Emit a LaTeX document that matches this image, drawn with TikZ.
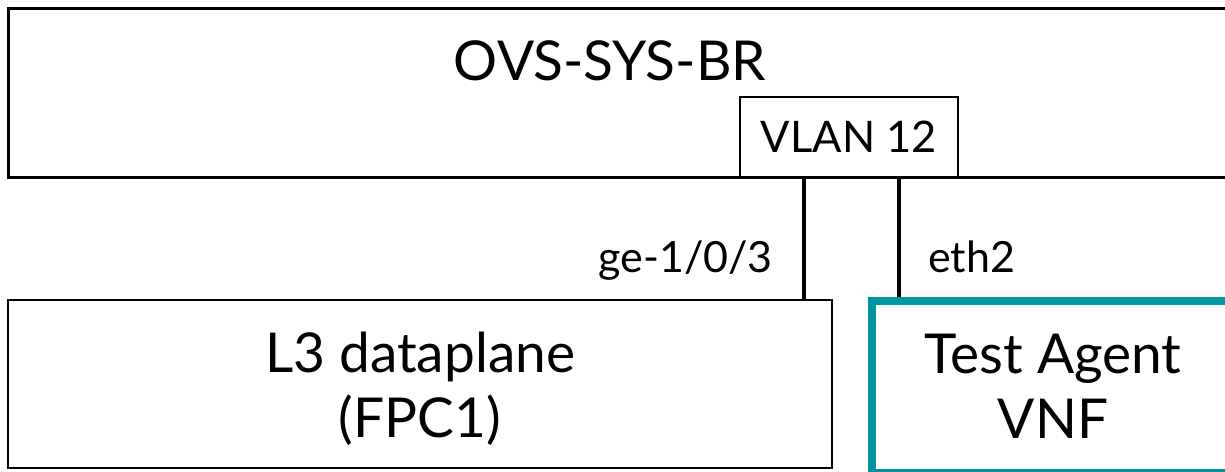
\documentclass[tikz,border=0pt]{standalone}
\usepackage{fontspec}
\setmainfont{Lato}
\definecolor{tealedge}{RGB}{0,150,160}
\newcommand{\toplinestrut}[1]{\rule{0pt}{#1}}
\newcommand{\botlinestrut}[1]{\rule[-#1]{0pt}{#1}}
\begin{document}
\begin{tikzpicture}[x=1pt,y=-1pt,
  bigtext/.style={font=\fontsize{55}{65}\selectfont},
  conn/.style={draw=black,line width=4pt},
  lbl/.style={inner sep=0pt,font=\fontsize{43}{50}\selectfont}]
\useasboundingbox (0,0) rectangle (1225,471);
\clip (0,0) rectangle (1225,471);
\node[draw,line width=3pt,minimum width=1232pt,minimum height=169pt,inner sep=0pt] (sys) at (624,92.5) {};
\node[inner sep=0pt,anchor=base,bigtext] (systxt) at (610,80) {OVS-SYS-BR};
\node[draw,fill=white,line width=2.5pt,minimum width=218pt,minimum height=80pt,inner sep=0pt,font=\fontsize{43.5}{50}\selectfont] (vlan) at (849,137) {VLAN 12};
\node[draw,line width=2.5pt,minimum width=824pt,minimum height=168pt,inner sep=0pt,align=center,bigtext] (l3) at (420,384) {\toplinestrut{56pt}L3 dataplane\\(FPC1)\botlinestrut{15pt}};
\node[draw=tealedge,line width=8pt,minimum width=362pt,minimum height=172pt,inner sep=0pt,align=center,bigtext] (agent) at (1053,387) {\toplinestrut{52pt}Test Agent\\VNF\botlinestrut{15pt}};
\coordinate (p1) at (804,0);
\coordinate (p2) at (899,0);
\draw[conn] (vlan.south -| p1) -- (l3.north -| p1);
\draw[conn] (vlan.south -| p2) -- (agent.north -| p2);
\node[lbl,anchor=base east] (ge) at (773,272) {ge-1/0/3};
\node[lbl,anchor=base west] (eth) at (928,272) {eth2};
\end{tikzpicture}
\end{document}
